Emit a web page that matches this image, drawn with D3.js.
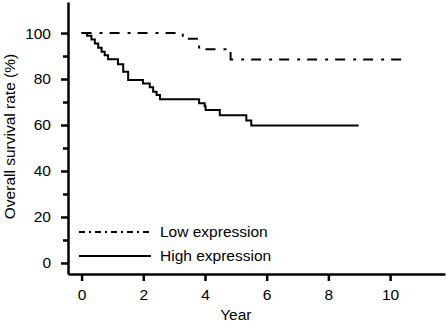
<!DOCTYPE html>
<html>
<head>
<meta charset="utf-8">
<script src="https://cdn.jsdelivr.net/npm/d3@7"></script>
<style>
  body { margin: 0; background: #fff; }
  svg text { font-family: "Liberation Sans", Arial, sans-serif; fill: #000; }
</style>
</head>
<body>
<svg id="chart"></svg>
<script>
// Kaplan-Meier style step data (years, %)
const lowYears = [0, 3.28, 3.81, 4.83, 10.47];
const lowSurv  = [100, 97.5, 93, 88.5, 88.5];

const highYears = [0, 0.18, 0.32, 0.43, 0.54, 0.65, 0.75, 0.86, 1.18, 1.35, 1.51, 1.99,
                   2.21, 2.32, 2.43, 2.54, 3.81, 3.99, 4.02, 4.48, 5.34, 5.5, 8.98];
const highSurv  = [100, 98.8, 97.2, 95.5, 93.6, 91.9, 90.3, 88.6, 86.4, 83.2, 79.6, 78.1,
                   76.4, 74.5, 73, 71.2, 69.5, 68.2, 66.5, 64.2, 62, 59.8, 59.8];

const xTicks = [0, 2, 4, 6, 8, 10];
const yTicks = [0, 20, 40, 60, 80, 100];
const yMinorTicks = [10, 30, 50, 70, 90];

const seriesNames = ["Low expression", "High expression"];

const width = 446, height = 324;
const svg = d3.select("#chart").attr("width", width).attr("height", height);

const x = d3.scaleLinear().domain([-0.44, 11.78]).range([68, 445]);
const y = d3.scaleLinear().domain([-4.8, 113.5]).range([274, 2]);

// axes
const xAxis = svg.append("g")
    .attr("transform", `translate(0,${y(-4.8)})`)
    .call(d3.axisBottom(x).tickValues(xTicks).tickSize(7).tickSizeOuter(0).tickPadding(8));
const yAxis = svg.append("g")
    .attr("transform", `translate(${x(-0.44)},0)`)
    .call(d3.axisLeft(y).tickValues(yTicks).tickSize(7).tickSizeOuter(0).tickPadding(10));
svg.append("g")
    .attr("transform", `translate(${x(-0.44)},0)`)
    .call(d3.axisLeft(y).tickValues(yMinorTicks).tickSize(5).tickSizeOuter(0).tickFormat(""))
    .select(".domain").remove();

svg.selectAll(".domain").attr("stroke-width", 2.5).attr("stroke", "#000");
svg.selectAll(".tick line").attr("stroke-width", 2.5).attr("stroke", "#000");
svg.selectAll(".tick text").attr("font-size", "15.5px").attr("font-family", "Liberation Sans, Arial, sans-serif").attr("fill", "#000");

// axis titles
svg.append("text")
    .attr("x", x(5))
    .attr("y", 320)
    .attr("text-anchor", "middle")
    .attr("font-size", "15.5px")
    .text("Year");
svg.append("text")
    .attr("transform", `translate(15,${y(55)}) rotate(-90)`)
    .attr("text-anchor", "middle")
    .attr("font-size", "15.5px")
    .text("Overall survival rate (%)");

// curves
const line = d3.line()
    .x(d => x(d[0]))
    .y(d => y(d[1]))
    .curve(d3.curveStepAfter);

svg.append("path")
    .datum(d3.zip(lowYears, lowSurv))
    .attr("d", line)
    .attr("fill", "none")
    .attr("stroke", "#000")
    .attr("stroke-width", 2)
    .attr("stroke-dasharray", "10,8,3,7");

svg.append("path")
    .datum(d3.zip(highYears, highSurv))
    .attr("d", line)
    .attr("fill", "none")
    .attr("stroke", "#000")
    .attr("stroke-width", 2);

// legend
const legend = svg.append("g");
const dashes = ["6,4,2,4", null];
seriesNames.forEach((name, i) => {
  const ly = 232 + i * 24;
  legend.append("line")
      .attr("x1", 79).attr("x2", 151)
      .attr("y1", ly).attr("y2", ly)
      .attr("stroke", "#000")
      .attr("stroke-width", 2)
      .attr("stroke-dasharray", dashes[i]);
  legend.append("text")
      .attr("x", 160)
      .attr("y", ly)
      .attr("dy", "0.35em")
      .attr("font-size", "15.5px")
      .text(name);
});
</script>
</body>
</html>
